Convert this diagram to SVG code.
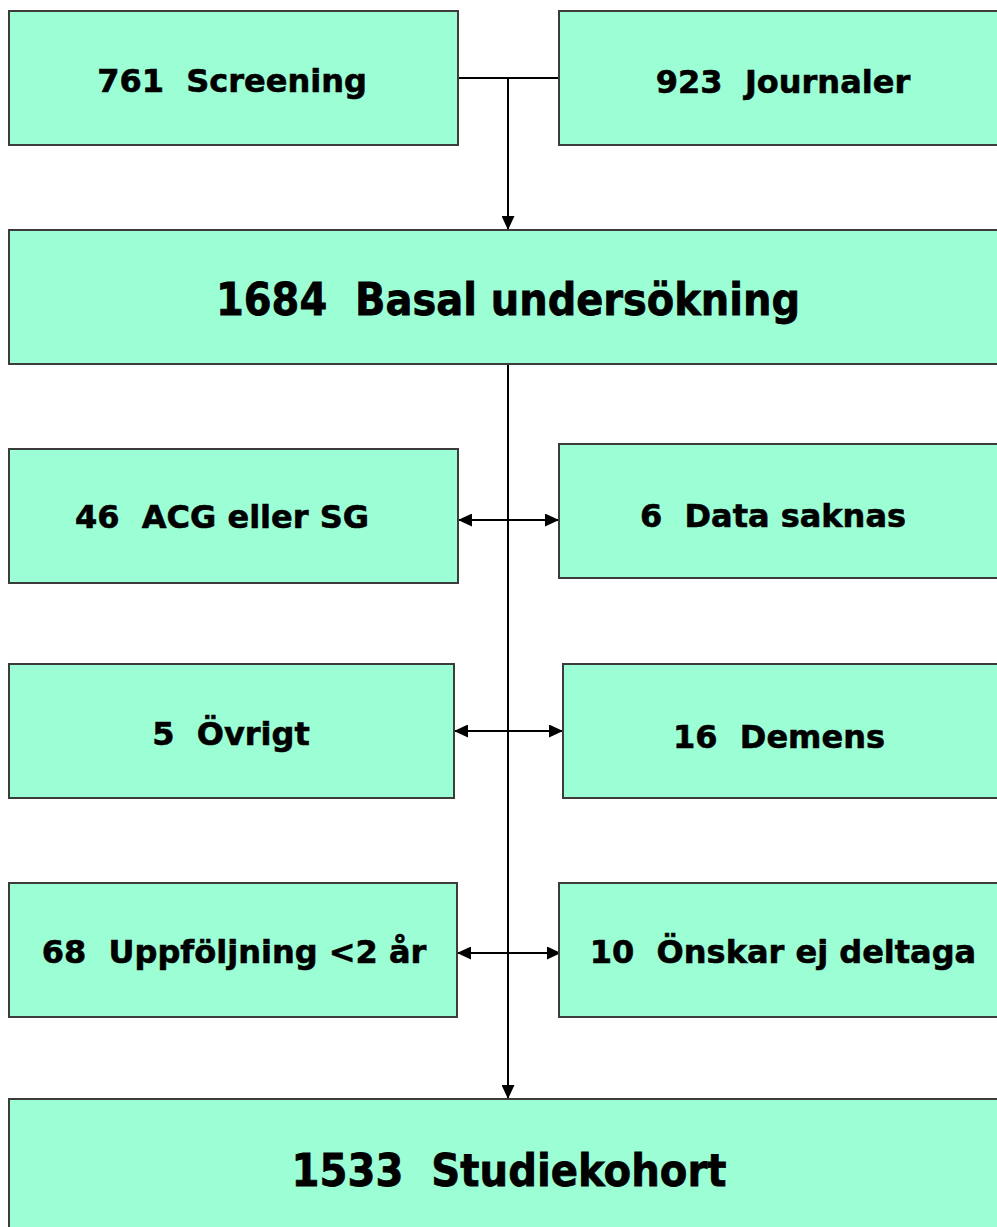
<svg xmlns="http://www.w3.org/2000/svg" width="997" height="1227" viewBox="0 0 997 1227">
<style>
.box{fill:#9cfed5;stroke:#3c3c3c;stroke-width:2}
.t{font-family:"DejaVu Sans","Verdana",sans-serif;font-weight:bold;font-size:32px;fill:#000;stroke:#000;stroke-width:0.6;text-anchor:middle;white-space:pre}
.big{font-size:44px;stroke-width:0.8}
.c{stroke:#000;stroke-width:2;fill:none}
</style>
<defs>
<marker id="ah" markerUnits="userSpaceOnUse" markerWidth="14" markerHeight="13" refX="13" refY="6.5" orient="auto-start-reverse" viewBox="0 0 14 13">
<path d="M0,0 L14,6.5 L0,13 z" fill="#000"/>
</marker>
</defs>
<rect width="997" height="1227" fill="#fff"/>
<g id="connectors">
<path class="c" d="M458,78 H559"/>
<path class="c" d="M508,78 V229" marker-end="url(#ah)"/>
<path class="c" d="M508,364 V1098" marker-end="url(#ah)"/>
<path class="c" d="M459,520 H558" marker-start="url(#ah)" marker-end="url(#ah)"/>
<path class="c" d="M455,731 H562" marker-start="url(#ah)" marker-end="url(#ah)"/>
<path class="c" d="M458,953 H560" marker-start="url(#ah)" marker-end="url(#ah)"/>
</g>
<g id="screening"><rect class="box" x="9" y="11" width="449" height="134"/><text class="t" x="232" y="92">761  Screening</text></g>
<g id="journaler"><rect class="box" x="559" y="11" width="450" height="134"/><text class="t" x="783" y="93">923  Journaler</text></g>
<g id="basal"><rect class="box" x="9" y="230" width="1000" height="134"/><text class="t big" x="508" y="315" textLength="584" lengthAdjust="spacingAndGlyphs">1684  Basal undersökning</text></g>
<g id="acg"><rect class="box" x="9" y="449" width="449" height="134"/><text class="t" x="222" y="528">46  ACG eller SG</text></g>
<g id="datasaknas"><rect class="box" x="559" y="444" width="450" height="134"/><text class="t" x="773" y="527">6  Data saknas</text></g>
<g id="ovrigt"><rect class="box" x="9" y="664" width="445" height="134"/><text class="t" x="231" y="745">5  Övrigt</text></g>
<g id="demens"><rect class="box" x="563" y="664" width="446" height="134"/><text class="t" x="779" y="748">16  Demens</text></g>
<g id="uppfoljning"><rect class="box" x="9" y="883" width="448" height="134"/><text class="t" x="234" y="963">68  Uppföljning &lt;2 år</text></g>
<g id="onskar"><rect class="box" x="559" y="883" width="450" height="134"/><text class="t" x="783" y="963">10  Önskar ej deltaga</text></g>
<g id="studiekohort"><rect class="box" x="9" y="1099" width="1000" height="140"/><text class="t big" x="509" y="1186" textLength="435" lengthAdjust="spacingAndGlyphs">1533  Studiekohort</text></g>
</svg>
